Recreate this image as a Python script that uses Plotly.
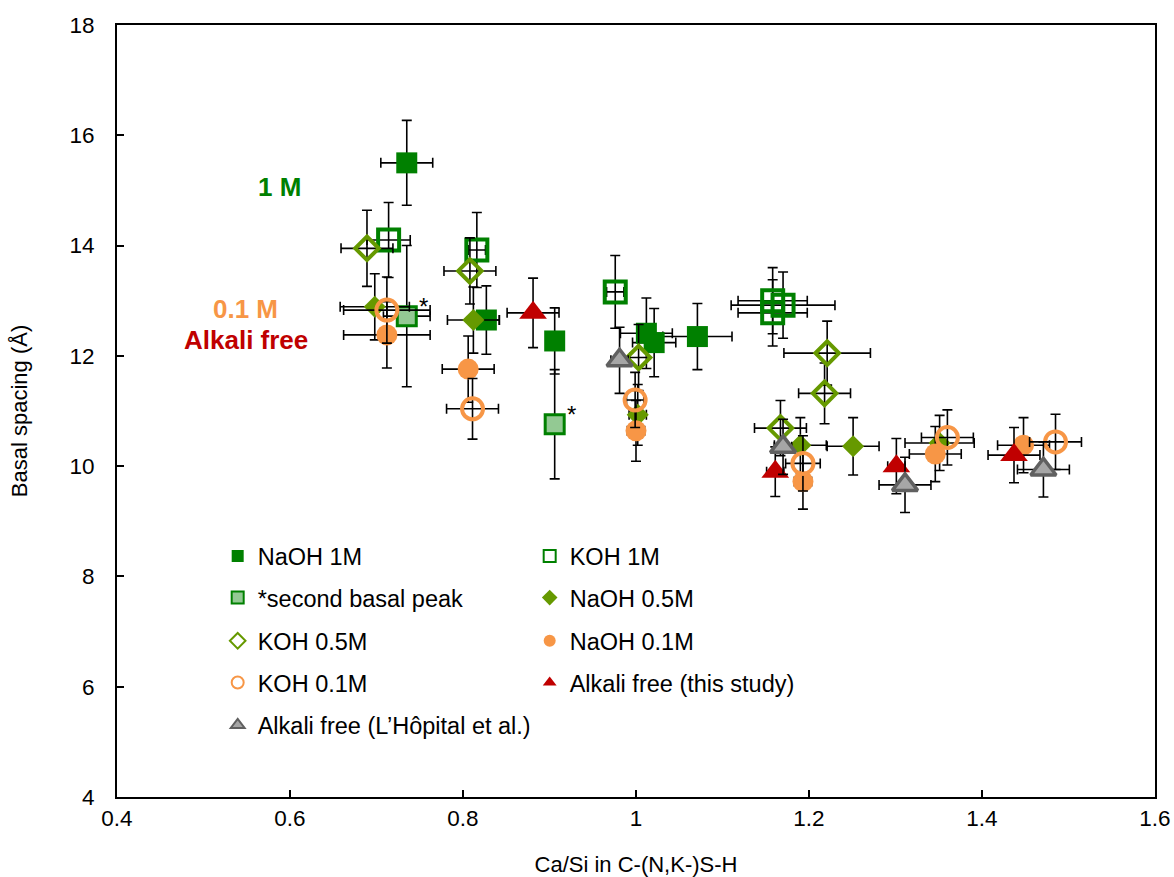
import plotly.graph_objects as go

# ---------------- data (Ca/Si, basal spacing, error bars) ----------------
naoh1m_x = [0.735, 0.827, 0.906, 1.012, 1.021, 1.071]
naoh1m_y = [15.50, 12.65, 12.27, 12.41, 12.24, 12.35]
naoh1m_ex = [0.03, 0.015, 0.01, 0.03, 0.025, 0.04]
naoh1m_ey = [0.77, 0.62, 0.60, 0.64, 0.62, 0.60]

koh1m_x = [0.714, 0.816, 0.976, 1.158, 1.170, 1.158]
koh1m_y = [14.10, 13.92, 13.16, 13.00, 12.92, 12.78]
koh1m_ex = [0.025, 0.01, 0.01, 0.04, 0.06, 0.04]
koh1m_ey = [0.68, 0.68, 0.66, 0.60, 0.60, 0.60]

peak2_x = [0.735, 0.906]
peak2_y = [12.72, 10.76]
peak2_ex = [0.027, 0.01]
peak2_ey = [1.28, 0.99]

naoh05_x = [0.698, 0.812, 1.002, 1.190, 1.251, 1.351]
naoh05_y = [12.89, 12.65, 10.93, 10.38, 10.36, 10.42]
naoh05_ex = [0.04, 0.03, 0.01, 0.03, 0.03, 0.04]
naoh05_ey = [0.60, 0.60, 0.55, 0.50, 0.52, 0.50]

koh05_x = [0.689, 0.808, 1.003, 1.221, 1.218, 1.167]
koh05_y = [13.95, 13.54, 11.97, 12.05, 11.32, 10.69]
koh05_ex = [0.03, 0.03, 0.01, 0.05, 0.03, 0.03]
koh05_ey = [0.69, 0.60, 0.60, 0.58, 0.55, 0.50]

naoh01_x = [0.712, 0.806, 1.000, 1.193, 1.346, 1.448]
naoh01_y = [12.38, 11.76, 10.64, 9.72, 10.22, 10.38]
naoh01_ex = [0.05, 0.03, 0.01, 0.01, 0.03, 0.03]
naoh01_ey = [0.60, 0.60, 0.55, 0.50, 0.50, 0.50]

koh01_x = [0.712, 0.811, 0.999, 1.193, 1.360, 1.485]
koh01_y = [12.83, 11.04, 11.20, 10.05, 10.52, 10.44]
koh01_ex = [0.05, 0.03, 0.01, 0.02, 0.03, 0.03]
koh01_ey = [0.60, 0.55, 0.50, 0.50, 0.50, 0.50]

af_x = [0.881, 1.161, 1.301, 1.437]
af_y = [12.78, 9.90, 10.00, 10.20]
af_ex = [0.03, 0.01, 0.01, 0.03]
af_ey = [0.63, 0.45, 0.50, 0.50]

lh_x = [0.981, 1.170, 1.311, 1.471]
lh_y = [11.92, 10.35, 9.66, 9.94]
lh_ex = [0.01, 0.01, 0.03, 0.03]
lh_ey = [0.60, 0.50, 0.50, 0.50]

x_ticks = [0.4, 0.6, 0.8, 1.0, 1.2, 1.4, 1.6]
x_ticklabels = ["0.4", "0.6", "0.8", "1", "1.2", "1.4", "1.6"]
y_ticks = [4, 6, 8, 10, 12, 14, 16, 18]

# ---------------- styles ----------------
GREEN = "#008000"
OLIVE = "#669900"
ORANGE = "#F79646"
RED = "#C00000"
FONT = "Liberation Sans, Arial, sans-serif"


def err(arr):
    return dict(type="data", array=arr, color="black", thickness=1.6, width=5)


series = [
    ("NaOH 1M", naoh1m_x, naoh1m_y, naoh1m_ex, naoh1m_ey,
     dict(symbol="square", size=21, color=GREEN), "legend"),
    ("KOH 1M", koh1m_x, koh1m_y, koh1m_ex, koh1m_ey,
     dict(symbol="square-open", size=21, color=GREEN, line=dict(width=4, color=GREEN)), "legend"),
    ("*second basal peak", peak2_x, peak2_y, peak2_ex, peak2_ey,
     dict(symbol="square", size=19, color="#93C993", line=dict(width=3, color=GREEN)), "legend2"),
    ("NaOH 0.5M", naoh05_x, naoh05_y, naoh05_ex, naoh05_ey,
     dict(symbol="diamond", size=17, color=OLIVE), "legend2"),
    ("KOH 0.5M", koh05_x, koh05_y, koh05_ex, koh05_ey,
     dict(symbol="diamond-open", size=18, color=OLIVE, line=dict(width=4, color=OLIVE)), "legend3"),
    ("NaOH 0.1M", naoh01_x, naoh01_y, naoh01_ex, naoh01_ey,
     dict(symbol="circle", size=21, color=ORANGE), "legend3"),
    ("KOH 0.1M", koh01_x, koh01_y, koh01_ex, koh01_ey,
     dict(symbol="circle-open", size=21, color=ORANGE, line=dict(width=4, color=ORANGE)), "legend4"),
    ("Alkali free (this study)", af_x, af_y, af_ex, af_ey,
     dict(symbol="triangle-up", size=24, color=RED), "legend4"),
    ("Alkali free (L\u2019H\u00f4pital et al.)", lh_x, lh_y, lh_ex, lh_ey,
     dict(symbol="triangle-up", size=22, color="#A6A6A6", line=dict(width=3.5, color="#606060")), "legend5"),
]

fig = go.Figure()
for name, xs, ys, ex, ey, mk, lg in series:
    fig.add_trace(go.Scatter(
        x=xs, y=ys, mode="markers", name=name, marker=mk,
        error_x=err(ex), error_y=err(ey), legend=lg,
    ))

# asterisks next to the second basal peak points
asterisks = [
    dict(x=px, y=py, xref="x", yref="y", text="*", showarrow=False,
         xshift=17, yshift=10, font=dict(size=24, color="black", family=FONT))
    for px, py in zip(peak2_x, peak2_y)
]

row_y = [0.312, 0.258, 0.202, 0.148, 0.093]
legend_common = dict(
    orientation="h", entrywidth=267, entrywidthmode="pixels",
    x=0.097, xanchor="left", yanchor="middle",
    bgcolor="rgba(0,0,0,0)", font=dict(family=FONT, size=23.5, color="black"),
    itemsizing="constant", tracegroupgap=0,
)

fig.update_layout(
    width=1174, height=877,
    margin=dict(l=117, r=19, t=25, b=80),
    plot_bgcolor="white", paper_bgcolor="white",
    font=dict(family=FONT, size=22, color="black"),
    legend=dict(legend_common, y=row_y[0]),
    legend2=dict(legend_common, y=row_y[1]),
    legend3=dict(legend_common, y=row_y[2]),
    legend4=dict(legend_common, y=row_y[3]),
    legend5=dict(legend_common, y=row_y[4]),
    xaxis=dict(
        range=[0.4, 1.6], tickvals=x_ticks, ticktext=x_ticklabels,
        ticks="inside", ticklen=7, tickwidth=1.5, tickcolor="black",
        showline=True, linecolor="black", linewidth=2, mirror=True,
        showgrid=False, zeroline=False, automargin=False,
        ticklabeloverflow="allow",
        title=dict(text="Ca/Si in C-(N,K-)S-H", standoff=34, font=dict(size=22)),
        tickfont=dict(size=22.5),
    ),
    yaxis=dict(
        range=[4, 18], tickvals=y_ticks,
        ticks="inside", ticklen=7, tickwidth=1.5, tickcolor="black",
        showline=True, linecolor="black", linewidth=2, mirror=True,
        showgrid=False, zeroline=False, automargin=False,
        ticklabelstandoff=16,
        title=dict(text="Basal spacing (\u00c5)", standoff=36, font=dict(size=22)),
        tickfont=dict(size=22.5),
    ),
    annotations=[
        dict(x=0.588, y=15.06, xref="x", yref="y", text="<b>1 M</b>", showarrow=False,
             font=dict(size=26, color=GREEN, family=FONT)),
        dict(x=0.549, y=12.85, xref="x", yref="y", text="<b>0.1 M</b>", showarrow=False,
             font=dict(size=26, color=ORANGE, family=FONT)),
        dict(x=0.549, y=12.29, xref="x", yref="y", text="<b>Alkali free</b>", showarrow=False,
             font=dict(size=26, color=RED, family=FONT)),
    ] + asterisks,
)

# remove the default 8px page margin so the figure fills the window exactly
fig.write_html("out.html", config={"displayModeBar": False},
               post_script="document.body.style.margin='0';")
